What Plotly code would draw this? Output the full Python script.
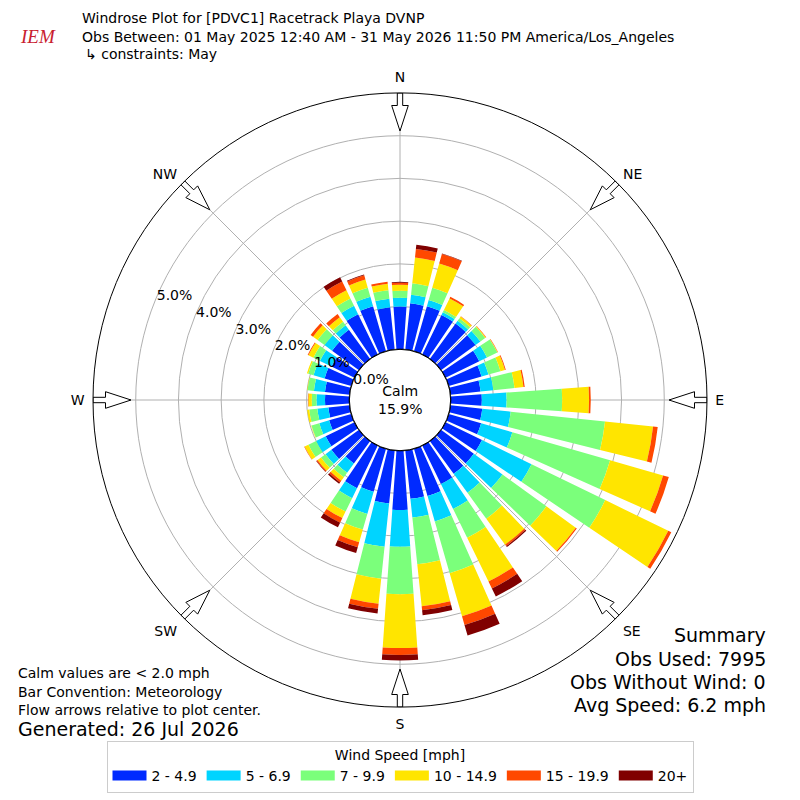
import math
import plotly.graph_objects as go

# wind directions (degrees, meteorological convention) and speed bins
directions = list(range(0, 360, 10))
speed_bins = ["2 - 4.9", "5 - 6.9", "7 - 9.9", "10 - 14.9", "15 - 19.9", "20+"]
bin_colors = ["#002aff", "#00d4ff", "#7bff7b", "#ffe500", "#ff4800", "#800000"]

# percent of observations per direction, one list per speed bin
freq_2_5 = [1.00, 1.09, 1.10, 1.03, 1.03, 1.00, 0.88, 0.80, 0.71, 0.73, 0.75, 0.79,
            0.95, 0.95, 0.95, 1.00, 1.15, 1.14, 1.39, 1.25, 1.05, 1.11, 0.65, 0.80,
            0.75, 0.54, 0.50, 0.57, 0.58, 0.65, 0.60, 0.78, 0.85, 1.05, 1.10, 1.00]
freq_5_7 = [0.21, 0.20, 0.15, 0.07, 0.08, 0.14, 0.20, 0.17, 0.30, 0.58, 0.67, 0.76,
            1.29, 0.83, 0.55, 0.65, 0.62, 0.44, 0.86, 1.02, 0.54, 0.26, 0.27, 0.17,
            0.25, 0.24, 0.26, 0.20, 0.26, 0.27, 0.30, 0.22, 0.13, 0.22, 0.23, 0.20]
freq_7_10 = [0.16, 0.27, 0.30, 0.06, 0.07, 0.14, 0.27, 0.29, 0.50, 1.30, 2.22, 2.38,
             1.92, 1.27, 0.75, 0.75, 1.26, 1.10, 1.11, 0.75, 0.38, 0.35, 0.13, 0.13,
             0.20, 0.19, 0.19, 0.11, 0.15, 0.13, 0.17, 0.20, 0.10, 0.19, 0.22, 0.20]
freq_10_15 = [0.14, 0.61, 0.59, 0.30, 0.05, 0.02, 0.01, 0.11, 0.21, 0.63, 1.13, 1.29,
              1.64, 0.85, 0.75, 1.14, 1.05, 0.99, 1.26, 0.59, 0.31, 0.17, 0.10, 0.10,
              0.10, 0.01, 0.05, 0.08, 0.01, 0.03, 0.13, 0.13, 0.13, 0.21, 0.20, 0.15]
freq_15_20 = [0.05, 0.20, 0.23, 0.04, 0.01, 0.01, 0.01, 0.02, 0.03, 0.04, 0.11, 0.14,
              0.08, 0.03, 0.04, 0.18, 0.21, 0.09, 0.16, 0.12, 0.12, 0.12, 0.05, 0.03,
              0.01, 0.00, 0.00, 0.01, 0.00, 0.00, 0.02, 0.07, 0.09, 0.23, 0.10, 0.05]
freq_20_up = [0.02, 0.10, 0.01, 0.00, 0.00, 0.00, 0.00, 0.00, 0.00, 0.00, 0.00, 0.00,
              0.00, 0.00, 0.03, 0.21, 0.26, 0.12, 0.13, 0.11, 0.14, 0.12, 0.04, 0.01,
              0.00, 0.00, 0.00, 0.00, 0.00, 0.00, 0.00, 0.00, 0.00, 0.11, 0.02, 0.00]

radial_ticks = [0, 1, 2, 3, 4, 5]
radial_labels = ["0.0%", "1.0%", "2.0%", "3.0%", "4.0%", "5.0%"]
compass_angles = [0, 45, 90, 135, 180, 225, 270, 315]
compass_labels = ["N", "NE", "E", "SE", "S", "SW", "W", "NW"]

calm_pct = 15.9
summary = ["Summary", "Obs Used: 7995", "Obs Without Wind: 0", "Avg Speed: 6.2 mph"]

RMAX = 6
HOLE = 0.165
OUTER_PX = 307
LABEL_BEARING = 293
FONT = "DejaVu Sans"

fig = go.Figure()

series = [freq_2_5, freq_5_7, freq_7_10, freq_10_15, freq_15_20, freq_20_up]
for name, color, vals in zip(speed_bins, bin_colors, series):
    fig.add_trace(go.Barpolar(
        r=vals, theta=directions, width=8, name=name, showlegend=False,
        marker=dict(color=color, line=dict(width=0)),
    ))
    # legend entry drawn as a wide swatch
    fig.add_trace(go.Scatterpolar(
        r=[None], theta=[None], mode="lines", name=name,
        line=dict(color=color, width=10),
    ))

# calm circle outline at the hole edge
circle_theta = list(range(0, 361, 2))
fig.add_trace(go.Scatterpolar(
    r=[0] * len(circle_theta), theta=circle_theta, mode="lines",
    line=dict(color="black", width=1.2), showlegend=False, hoverinfo="skip",
))

# radial percent labels, horizontal, along one bearing
fig.add_trace(go.Scatterpolar(
    r=radial_ticks, theta=[LABEL_BEARING] * len(radial_ticks), mode="text",
    text=radial_labels, textposition="middle right",
    textfont=dict(size=14, color="black"), showlegend=False, hoverinfo="skip",
))

# hollow flow arrows on the rim, pointing to the centre
hole_px = HOLE * OUTER_PX
px_per_unit = (OUTER_PX - hole_px) / RMAX
arrow_shape = [(0, -2.7), (12.5, -2.7), (12.5, -8.3), (38, 0),
               (12.5, 8.3), (12.5, 2.7), (0, 2.7), (0, -2.7)]
for bearing in compass_angles:
    rr, tt = [], []
    for d, v in arrow_shape:
        rho = math.hypot(OUTER_PX - d, v)
        rr.append((rho - hole_px) / px_per_unit)
        tt.append(bearing + math.degrees(math.atan2(v, OUTER_PX - d)))
    fig.add_trace(go.Scatterpolar(
        r=rr, theta=tt, mode="lines", fill="toself", fillcolor="white",
        line=dict(color="black", width=1), showlegend=False, hoverinfo="skip",
    ))

annotations = [
    dict(text="<i>IEM</i>", x=0.048, y=0.955, font=dict(family="Liberation Serif", size=19, color="#c8202e")),
    dict(text="Windrose Plot for [PDVC1] Racetrack Playa DVNP", x=0.1, y=0.9775, xanchor="left"),
    dict(text="Obs Between: 01 May 2025 12:40 AM - 31 May 2026 11:50 PM America/Los_Angeles",
         x=0.1, y=0.954, xanchor="left"),
    dict(text="↳ constraints: May", x=0.104, y=0.9325, xanchor="left"),
    dict(text=f"Calm<br>{calm_pct:.1f}%", x=0.5, y=0.5),
    dict(text="Calm values are &lt; 2.0 mph", x=0.02, y=0.159, xanchor="left"),
    dict(text="Bar Convention: Meteorology", x=0.02, y=0.135, xanchor="left"),
    dict(text="Flow arrows relative to plot center.", x=0.02, y=0.1125, xanchor="left"),
    dict(text="Generated: 26 Jul 2026", x=0.02, y=0.089, xanchor="left", font=dict(size=19)),
]
for i, line in enumerate(summary):
    annotations.append(dict(text=line, x=0.96, y=0.206 - i * 0.0292, xanchor="right",
                            font=dict(size=19)))
for a in annotations:
    a.setdefault("xref", "paper")
    a.setdefault("yref", "paper")
    a.setdefault("showarrow", False)
    a.setdefault("yanchor", "middle")
    a.setdefault("xanchor", "center")

fig.update_layout(
    width=800, height=800,
    margin=dict(l=0, r=0, t=0, b=0),
    paper_bgcolor="white",
    font=dict(family=FONT, size=14, color="black"),
    polar=dict(
        domain=dict(x=[0.11625, 0.88375], y=[0.11625, 0.88375]),
        hole=HOLE,
        bgcolor="white",
        barmode="stack",
        radialaxis=dict(
            range=[0, RMAX], tickvals=radial_ticks, showticklabels=False,
            showline=False, ticks="", gridcolor="#b0b0b0", gridwidth=1,
        ),
        angularaxis=dict(
            rotation=90, direction="clockwise",
            tickvals=compass_angles, ticktext=compass_labels,
            showline=True, linecolor="black", linewidth=1,
            gridcolor="#b0b0b0", gridwidth=1,
            ticks="outside", ticklen=5, tickcolor="rgba(0,0,0,0)",
            tickfont=dict(size=14, color="black"),
        ),
    ),
    legend=dict(
        orientation="h", x=0.5, xanchor="center", y=0.074, yanchor="top",
        bordercolor="#cccccc", borderwidth=1, bgcolor="white",
        itemwidth=34,
        title=dict(text="Wind Speed [mph]", side="top center", font=dict(size=14)),
        font=dict(size=14),
    ),
    annotations=annotations,
)

fig.write_html("out.html", config={"displayModeBar": False},
               post_script="document.body.style.margin = '0';")
